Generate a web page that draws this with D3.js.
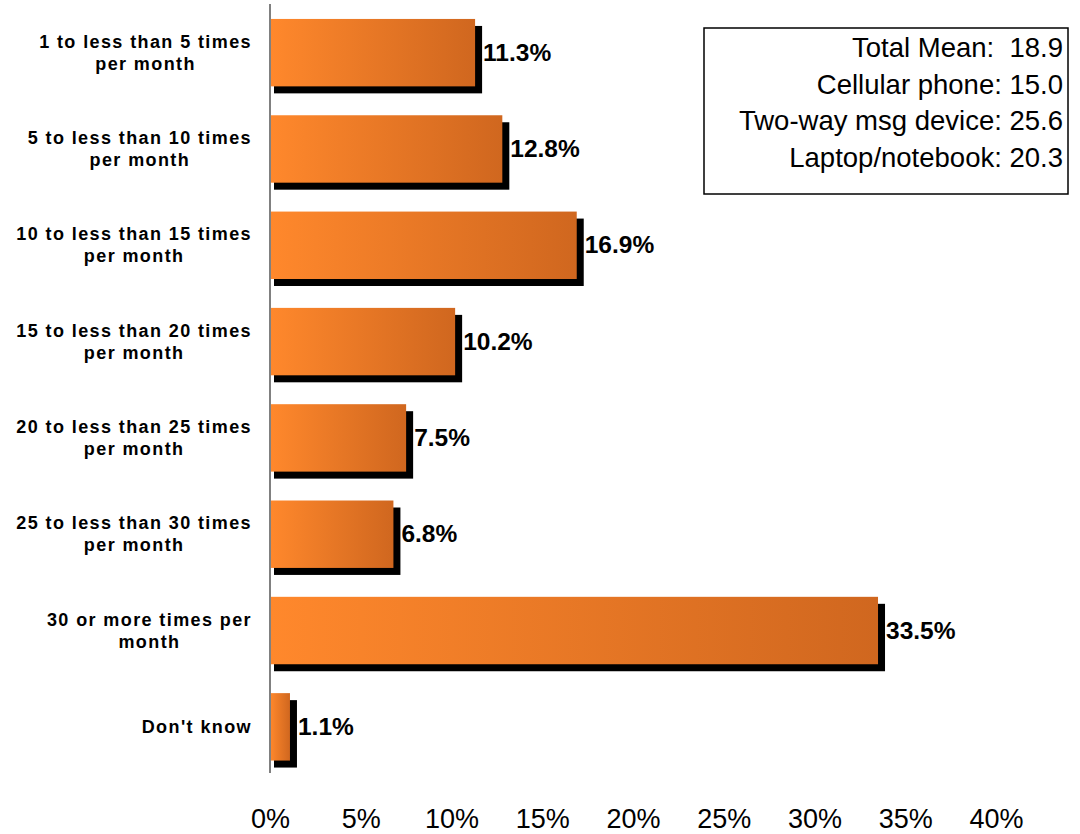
<!DOCTYPE html>
<html>
<head>
<meta charset="utf-8">
<script src="https://cdn.jsdelivr.net/npm/d3@7/dist/d3.min.js"></script>
<style>
  html, body { margin: 0; padding: 0; background: #fff; }
  svg { display: block; }
</style>
</head>
<body>
<svg id="chart" width="1080" height="834"></svg>
<script>
const categories = [
  ["1 to less than 5 times", "per month"],
  ["5 to less than 10 times", "per month"],
  ["10 to less than 15 times", "per month"],
  ["15 to less than 20 times", "per month"],
  ["20 to less than 25 times", "per month"],
  ["25 to less than 30 times", "per month"],
  ["30 or more times per", "month"],
  ["Don't know"]
];
const values = [11.3, 12.8, 16.9, 10.2, 7.5, 6.8, 33.5, 1.1];
const tickValues = [0, 5, 10, 15, 20, 25, 30, 35, 40];
const legendLines = [
  "Total Mean:  18.9",
  "Cellular phone: 15.0",
  "Two-way msg device: 25.6",
  "Laptop/notebook: 20.3"
];

const svg = d3.select("#chart");
const font = "'Liberation Sans', Arial, Helvetica, sans-serif";

const x = d3.scaleLinear().domain([0, 40]).range([270, 996]);
const y = d3.scaleBand()
  .domain(d3.range(values.length))
  .range([4.5, 775])
  .paddingInner(0.3)
  .paddingOuter(0.15);

const defs = svg.append("defs");
const grad = defs.append("linearGradient")
  .attr("id", "barGrad")
  .attr("x1", "0").attr("y1", "0").attr("x2", "1").attr("y2", "0");
grad.append("stop").attr("offset", "0%").attr("stop-color", "#FF882C");
grad.append("stop").attr("offset", "100%").attr("stop-color", "#D0671F");

const shadowOff = 7;

// shadows
svg.append("g").selectAll("rect")
  .data(values)
  .join("rect")
  .attr("x", x(0) + 4)
  .attr("y", (d, i) => y(i) + shadowOff)
  .attr("width", d => x(d) - x(0) + shadowOff - 4)
  .attr("height", y.bandwidth())
  .attr("fill", "#000");

// bars
svg.append("g").selectAll("rect")
  .data(values)
  .join("rect")
  .attr("x", x(0))
  .attr("y", (d, i) => y(i))
  .attr("width", d => x(d) - x(0))
  .attr("height", y.bandwidth())
  .attr("fill", "url(#barGrad)");

// axis line
svg.append("line")
  .attr("x1", x(0)).attr("x2", x(0))
  .attr("y1", 4).attr("y2", 773)
  .attr("stroke", "#808080")
  .attr("stroke-width", 2);

// value labels
svg.append("g").selectAll("text")
  .data(values)
  .join("text")
  .attr("x", d => x(d) + 8)
  .attr("y", (d, i) => y(i) + y.bandwidth() / 2 + 8)
  .attr("font-family", font)
  .attr("font-weight", "bold")
  .attr("font-size", 24.5)
  .attr("fill", "#000")
  .text(d => d.toFixed(1) + "%");

// category labels: lines centred on each other, block right-aligned
const catG = svg.append("g")
  .attr("font-family", font)
  .attr("font-weight", "bold")
  .attr("font-size", 18)
  .attr("letter-spacing", 1.4)
  .attr("fill", "#000")
  .attr("text-anchor", "middle");
const labelRight = 252;
categories.forEach((lines, i) => {
  const cy = y(i) + y.bandwidth() / 2;
  const lh = 22;
  const first = cy + 6 - (lines.length - 1) * lh / 2;
  const g = catG.append("g");
  const texts = lines.map((ln, j) => g.append("text")
      .attr("y", first + j * lh)
      .text(ln));
  const maxW = d3.max(texts, t => t.node().getComputedTextLength());
  texts.forEach(t => t.attr("x", labelRight - maxW / 2));
});

// x axis tick labels
const xAxis = d3.axisBottom(x)
  .tickValues(tickValues)
  .tickSize(0)
  .tickPadding(0)
  .tickFormat(d => d + "%");
const axG = svg.append("g")
  .attr("transform", "translate(0,809)")
  .call(xAxis);
axG.select(".domain").remove();
axG.selectAll("text")
  .attr("font-family", font)
  .attr("font-size", 27)
  .attr("fill", "#000")
  .attr("dy", "0.71em");

// legend box
svg.append("rect")
  .attr("x", 704).attr("y", 28)
  .attr("width", 364).attr("height", 166)
  .attr("fill", "#fff")
  .attr("stroke", "#000")
  .attr("stroke-width", 1.5);
svg.append("g").selectAll("text")
  .data(legendLines)
  .join("text")
  .attr("x", 1063)
  .attr("y", (d, i) => 57 + i * 36.5)
  .attr("text-anchor", "end")
  .attr("font-family", font)
  .attr("font-size", 27.5)
  .attr("fill", "#000")
  .style("white-space", "pre")
  .text(d => d);
</script>
</body>
</html>
